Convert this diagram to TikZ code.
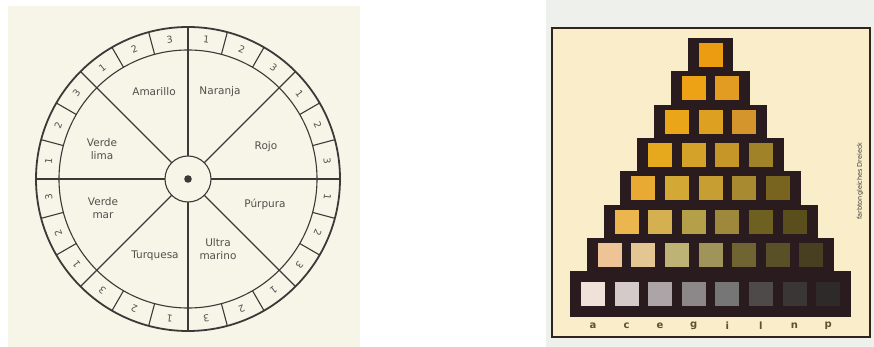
\documentclass[tikz,border=0pt]{standalone}
\usepackage{fontspec}
\setsansfont{DejaVu Sans}
\definecolor{paper}{RGB}{247,245,232}
\definecolor{inkc}{RGB}{58,58,56}
\definecolor{txtc}{RGB}{80,80,76}
\definecolor{stripc}{RGB}{238,240,236}
\definecolor{boxc}{RGB}{249,237,202}
\definecolor{boxline}{RGB}{48,36,30}
\definecolor{pyrc}{RGB}{42,28,30}
\definecolor{glyphc}{RGB}{92,82,44}
\begin{document}
\begin{tikzpicture}[x=1pt,y=-1pt,
  lbl/.style={font=\sffamily\fontsize{10.5}{13.5}\selectfont, text=txtc, align=center, inner sep=0pt},
  dig/.style={font=\sffamily\fontsize{9.5}{9.5}\selectfont, text=txtc, inner sep=0pt},
  swatch/.style={minimum size=24pt, inner sep=0pt, draw=none},
  glyph/.style={font=\sffamily\bfseries\fontsize{10}{10}\selectfont, text=glyphc, inner sep=0pt}]
\useasboundingbox (0,0) rectangle (874,347);
\fill[white] (0,0) rectangle (874,347);
% ---------- left panel: colour wheel ----------
\fill[paper] (8,6) rectangle (360,347);
\coordinate (c) at (188,179);
\begin{scope}[shift={(188,179)}, y=1pt, draw=inkc]
  \draw[line width=1.8pt] (0,0) circle (152);
  \draw[line width=1.1pt] (0,0) circle (129);
  \draw[line width=1.1pt] (0,0) circle (23);
  \fill[inkc] (0,0) circle (3.8);
  \foreach \a in {0,15,...,345} \draw[line width=1.1pt] (\a:129) -- (\a:152);
  \foreach \a in {0,45,...,315} \draw[line width=1.1pt] (\a:23) -- (\a:129);
  \foreach \i in {0,...,23} {
    \pgfmathsetmacro\ang{82.5-15*\i}
    \pgfmathtruncatemacro\dd{mod(\i,3)+1}
    \node[dig, rotate=\ang-90] (d\i) at (\ang:140.5) {\dd};
  }
\end{scope}
\node[lbl] (amarillo) at (154,92) {Amarillo};
\node[lbl] (naranja) at (220,92) {Naranja};
\node[lbl] (rojo) at (266,147) {Rojo};
\node[lbl] (vlima) at (102,149) {Verde\\lima};
\node[lbl] (vmar) at (103,208) {Verde\\mar};
\node[lbl] (purpura) at (265,204) {Púrpura};
\node[lbl] (turquesa) at (155,256) {Turquesa};
\node[lbl] (ultra) at (218,249) {Ultra\\marino};
% ---------- right panel: colour triangle ----------
\fill[stripc] (546,0) rectangle (874,347);
\filldraw[fill=boxc, draw=boxline, line width=1.5pt] (552,28) rectangle (870,337);
\foreach \k in {1,...,7} {
  \fill[pyrc] ({710.5-22.5-(\k-1)*16.9}, {38.3+(\k-1)*33.33-0.3})
     rectangle ({710.5+22.5+(\k-1)*16.9}, {38.3+\k*33.33+0.3});
}
\fill[pyrc] (569.7,271.4) rectangle (851.3,316.7);
\foreach \k/\j/\r/\g/\b in {
  1/1/236/156/16,
  2/1/236/162/20, 2/2/226/156/34,
  3/1/234/166/24, 3/2/222/160/32, 3/3/212/150/44,
  4/1/230/168/28, 4/2/212/162/40, 4/3/198/150/40, 4/4/160/130/40,
  5/1/232/170/50, 5/2/212/168/52, 5/3/198/158/50, 5/4/168/138/48, 5/5/120/100/30,
  6/1/236/182/78, 6/2/212/176/80, 6/3/180/160/72, 6/4/158/136/60, 6/5/110/96/32, 6/6/90/78/28,
  7/1/238/196/150, 7/2/228/198/146, 7/3/190/178/116, 7/4/160/148/88, 7/5/112/100/50, 7/6/90/80/40, 7/7/72/62/32,
  8/1/240/226/216, 8/2/212/202/202, 8/3/172/164/166, 8/4/140/136/138, 8/5/118/118/118, 8/6/78/74/74, 8/7/58/54/54, 8/8/46/42/42} {
  \definecolor{sw}{RGB}{\r,\g,\b}
  \pgfmathsetmacro\xx{710.5+(\j-(\k+1)/2)*33.6}
  \pgfmathsetmacro\yy{\k<8 ? 38.3+(\k-1)*33.33+16.67 : 294}
  \node[swatch, fill=sw] (s\k-\j) at (\xx,\yy) {};
}
\foreach \j/\t in {1/a,2/c,3/e,4/g,5/i,6/l,7/n,8/p} {
  \pgfmathsetmacro\xx{710.5+(\j-4.5)*33.6}
  \node[glyph] (g\j) at (\xx,326) {\t};
}
\node[rotate=90, font=\sffamily\fontsize{6.5}{7}\selectfont, text=inkc, inner sep=0pt] (vt) at (860,181) {farbtongleiches Dreieck};
\end{tikzpicture}
\end{document}
